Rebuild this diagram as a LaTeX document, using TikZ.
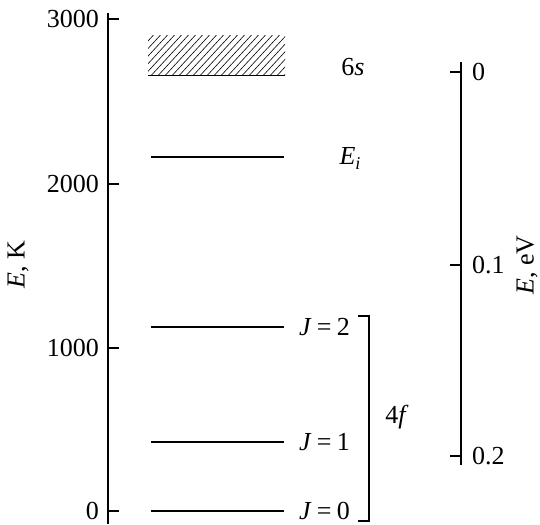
\documentclass[tikz,border=0pt]{standalone}
\usepackage{fontspec}
\setmainfont{Liberation Serif}
\begin{document}
\begin{tikzpicture}[x=1pt,y=-1pt,
  axis/.style={line width=2.2pt},
  tick/.style={line width=1.8pt},
  level/.style={line width=2.2pt},
  lab/.style={font=\fontsize{26}{30}\selectfont, inner sep=0pt},
  hatch/.style={line width=0.6pt}]
\useasboundingbox (0,0) rectangle (540,524);
% left axis
\draw[axis] (108,13) -- (108,524);
\foreach \y/\t in {19/3000,184/2000,348/1000,511/0}{
  \draw[tick] (108,\y) -- (119,\y);
  \node[lab,anchor=east] at (99,\y) {\t};
}
\node[lab,rotate=90] (ek) at (18,265) {\textit{E}, K};
% right axis
\draw[axis] (461,62) -- (461,465);
\foreach \y/\t in {72/0,265/0.1,456/0.2}{
  \draw[tick] (450,\y) -- (461,\y);
  \node[lab,anchor=west] at (472,\y) {\t};
}
\node[lab,rotate=90] (eev) at (527,265) {\textit{E}, eV};
% 6s band
\begin{scope}
  \clip (148,36) rectangle (285,75);
  \foreach \i in {-8,...,21}{
    \draw[hatch] (140+7*\i,80) -- (140+7*\i+48,28);
  }
\end{scope}
\draw[line width=0.9pt] (148,75) -- (285,75);
\node[lab] (s6) at (353,67) {6\textit{s}};
% levels
\draw[level] (151,157) -- (284,157);
\node[lab] (ei) at (350,158) {\textit{E}\raisebox{-5pt}{\fontsize{18}{18}\selectfont\textit{i}}};
\foreach \y/\j in {327/2,442/1,511/0}{
  \draw[level] (151,\y) -- (284,\y);
  \node[lab,anchor=west] at (299,\y) {\textit{J}\hspace{0.2em}=\hspace{0.2em}\j};
}
% bracket
\draw[line width=1.6pt] (358,316) -- (369,316) -- (369,521) -- (358,521);
\node[lab] (f4) at (397,417) {4\textit{f}};
\end{tikzpicture}
\end{document}
